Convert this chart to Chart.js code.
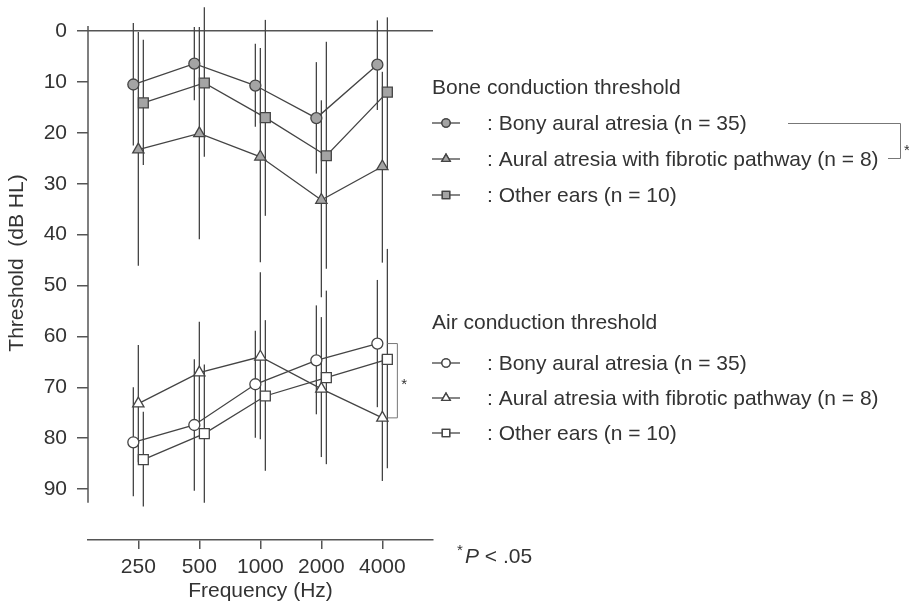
<!DOCTYPE html>
<html lang="en">
<head>
    <meta charset="UTF-8">
    <title>Bone and air conduction thresholds</title>
    <script src="https://cdn.jsdelivr.net/npm/chart.js"></script>
    <style>
        body {
            margin: 0;
            background: #fff;
            font-family: 'Liberation Sans', Arial, sans-serif;
        }
        .chart-container {
            position: relative;
            width: 909px;
            height: 608px;
        }
    </style>
</head>
<body>
    <div class="chart-container">
        <canvas id="audioChart"></canvas>
    </div>

    <script>
        // frequencies on the x axis
        const freqLabels = ['250', '500', '1000', '2000', '4000'];
        const yTickValues = [0, 10, 20, 30, 40, 50, 60, 70, 80, 90];

        // bone conduction (dB HL): means, bottom/top of the vertical bars
        const boneBony = [10.5, 6.4, 10.7, 17.1, 6.6];
        const boneBonyLo = [-1.6, -0.8, 2.5, 6.1, -2.1];
        const boneBonyHi = [22.5, 13.6, 18.8, 28.0, 15.5];

        const boneFib = [23.3, 20.1, 24.7, 33.2, 26.6];
        const boneFibLo = [0.2, -0.8, 3.3, 13.6, 8.0];
        const boneFibHi = [46.1, 40.9, 45.4, 52.3, 45.5];

        const boneOther = [14.1, 10.2, 17.0, 24.5, 12.0];
        const boneOtherLo = [1.7, -4.7, -2.2, 2.1, -2.7];
        const boneOtherHi = [26.3, 24.7, 36.3, 46.7, 27.1];

        // air conduction (dB HL)
        const airBony = [80.8, 77.4, 69.4, 64.7, 61.4];
        const airBonyLo = [70.0, 64.5, 58.9, 53.9, 48.9];
        const airBonyHi = [91.4, 90.3, 79.9, 75.3, 73.9];

        const airFib = [73.2, 67.1, 64.0, 70.3, 76.0];
        const airFibLo = [61.7, 57.1, 47.4, 56.2, 63.6];
        const airFibHi = [84.7, 77.1, 80.2, 83.7, 88.4];

        const airOther = [84.2, 79.1, 71.7, 68.1, 64.5];
        const airOtherLo = [74.8, 65.5, 56.8, 51.0, 42.8];
        const airOtherHi = [93.4, 92.7, 86.4, 85.1, 85.9];

        const groupLabels = [
            ': Bony aural atresia (n = 35)',
            ': Aural atresia with fibrotic pathway (n = 8)',
            ': Other ears (n = 10)'
        ];

        const FONT = "'Liberation Sans', Arial, sans-serif";
        const TEXT = '#333';
        const LINE = '#444';
        const GRAY = '#a4a4a4';
        const DODGE = [-0.082, 0, 0.082];   // small side shift per group
        const STYLES = [
            { pointStyle: 'circle', radius: 5.5 },
            { pointStyle: 'triangle', radius: 6.5 },
            { pointStyle: 'rect', radius: 7 }
        ];

        function makeSet(values, lo, hi, group, fill) {
            return {
                data: values.map((v, i) => ({ x: i + 1 + DODGE[group], y: v })),
                errLo: lo,
                errHi: hi,
                showLine: true,
                borderColor: LINE,
                borderWidth: 1.3,
                pointStyle: STYLES[group].pointStyle,
                pointRadius: STYLES[group].radius,
                pointHoverRadius: STYLES[group].radius,
                pointBackgroundColor: fill,
                pointBorderColor: LINE,
                pointBorderWidth: 1.3,
                clip: false
            };
        }

        const datasets = [
            makeSet(boneBony, boneBonyLo, boneBonyHi, 0, GRAY),
            makeSet(boneFib, boneFibLo, boneFibHi, 1, GRAY),
            makeSet(boneOther, boneOtherLo, boneOtherHi, 2, GRAY),
            makeSet(airBony, airBonyLo, airBonyHi, 0, '#fff'),
            makeSet(airFib, airFibLo, airFibHi, 1, '#fff'),
            makeSet(airOther, airOtherLo, airOtherHi, 2, '#fff')
        ];

        // vertical bars drawn under the markers
        const errorBars = {
            id: 'errorBars',
            beforeDatasetsDraw(chart) {
                const c = chart.ctx;
                const xs = chart.scales.x, ys = chart.scales.y;
                c.save();
                c.strokeStyle = LINE;
                c.lineWidth = 1.3;
                chart.data.datasets.forEach(ds => {
                    ds.data.forEach((p, i) => {
                        const px = xs.getPixelForValue(p.x);
                        c.beginPath();
                        c.moveTo(px, ys.getPixelForValue(ds.errLo[i]));
                        c.lineTo(px, ys.getPixelForValue(ds.errHi[i]));
                        c.stroke();
                    });
                });
                c.restore();
            }
        };

        const decorations = {
            id: 'decorations',
            afterDraw(chart) {
                const c = chart.ctx;
                const xs = chart.scales.x, ys = chart.scales.y;
                const area = chart.chartArea;
                c.save();

                // y axis line, stops short of the x axis
                c.strokeStyle = '#555';
                c.lineWidth = 1.5;
                c.beginPath();
                c.moveTo(area.left, ys.getPixelForValue(-1));
                c.lineTo(area.left, ys.getPixelForValue(92.7));
                c.stroke();

                // y title
                c.fillStyle = TEXT;
                c.font = '21px ' + FONT;
                c.textAlign = 'center';
                c.textBaseline = 'middle';
                c.translate(17, 263);
                c.rotate(-Math.PI / 2);
                c.fillText('Threshold  (dB HL)', 0, 0);
                c.setTransform(1, 0, 0, 1, 0, 0);

                // significance bracket, air 4000 Hz
                const bx = xs.getPixelForValue(5);
                const yTop = ys.getPixelForValue(airBony[4]);
                const yBot = ys.getPixelForValue(airFib[4]);
                c.strokeStyle = '#777';
                c.lineWidth = 1;
                c.beginPath();
                c.moveTo(bx + 5, yTop);
                c.lineTo(bx + 15, yTop);
                c.lineTo(bx + 15, yBot);
                c.lineTo(bx + 5, yBot);
                c.stroke();
                c.font = '15px ' + FONT;
                c.textAlign = 'left';
                c.fillText('*', bx + 19, (yTop + yBot) / 2 + 4);

                // legend blocks
                function block(title, titleY, rowsY, fill) {
                    c.font = '21px ' + FONT;
                    c.fillStyle = TEXT;
                    c.textAlign = 'left';
                    c.textBaseline = 'middle';
                    c.fillText(title, 432, titleY);
                    rowsY.forEach((ry, g) => {
                        c.strokeStyle = LINE;
                        c.lineWidth = 1.3;
                        c.beginPath();
                        c.moveTo(432, ry);
                        c.lineTo(460, ry);
                        c.stroke();
                        c.fillStyle = fill;
                        Chart.helpers.drawPoint(c, {
                            pointStyle: STYLES[g].pointStyle,
                            radius: STYLES[g].radius * 0.75,
                            borderWidth: 1.2,
                            rotation: 0
                        }, 446, ry);
                        c.fill();
                        c.stroke();
                        c.fillStyle = TEXT;
                        c.fillText(groupLabels[g], 487, ry + 1);
                    });
                }
                block('Bone conduction threshold', 88, [123, 159, 195], GRAY);
                block('Air conduction threshold', 323, [363, 398, 433], '#fff');

                // bracket between the bone legend rows
                c.strokeStyle = '#777';
                c.lineWidth = 1;
                c.beginPath();
                c.moveTo(788, 123.5);
                c.lineTo(900.5, 123.5);
                c.lineTo(900.5, 158.5);
                c.lineTo(888, 158.5);
                c.stroke();
                c.fillStyle = TEXT;
                c.font = '15px ' + FONT;
                c.fillText('*', 904, 151);

                // footnote
                c.font = '15px ' + FONT;
                c.fillText('*', 457, 551);
                c.font = 'italic 21px ' + FONT;
                c.fillText('P', 465, 557);
                c.font = '21px ' + FONT;
                c.fillText(' < .05', 479, 557);

                c.restore();
            }
        };

        const ctx = document.getElementById('audioChart').getContext('2d');
        const chart = new Chart(ctx, {
            type: 'scatter',
            data: { datasets: datasets },
            options: {
                responsive: true,
                maintainAspectRatio: false,
                animation: false,
                events: [],
                layout: {
                    padding: { left: 0, top: 26, right: 476, bottom: 0 }
                },
                plugins: {
                    legend: { display: false },
                    tooltip: { enabled: false }
                },
                scales: {
                    x: {
                        type: 'linear',
                        position: 'bottom',
                        min: 0.175,
                        max: 5.83,
                        afterBuildTicks: axis => {
                            axis.ticks = freqLabels.map((_, i) => ({ value: i + 1 }));
                        },
                        afterFit: axis => { axis.height = 68; },
                        ticks: {
                            callback: v => freqLabels[v - 1],
                            color: TEXT,
                            font: { family: FONT, size: 21 },
                            padding: 6,
                            maxRotation: 0
                        },
                        grid: {
                            drawOnChartArea: false,
                            tickLength: 9,
                            tickColor: '#555',
                            lineWidth: 1.5
                        },
                        border: { color: '#555', width: 1.5 },
                        title: {
                            display: true,
                            text: 'Frequency (Hz)',
                            color: TEXT,
                            font: { family: FONT, size: 21 },
                            padding: { top: 0, bottom: 4 }
                        }
                    },
                    y: {
                        type: 'linear',
                        reverse: true,
                        min: -1,
                        max: 100,
                        afterBuildTicks: axis => {
                            axis.ticks = yTickValues.map(v => ({ value: v }));
                        },
                        afterFit: axis => { axis.width = 88; },
                        ticks: {
                            color: TEXT,
                            font: { family: FONT, size: 21 },
                            padding: 10
                        },
                        grid: {
                            color: c => (c.tick && c.tick.value === 0 ? '#555' : 'rgba(0,0,0,0)'),
                            tickColor: '#555',
                            tickLength: 11,
                            lineWidth: 1.5
                        },
                        border: { display: false }
                    }
                }
            },
            plugins: [errorBars, decorations]
        });
    </script>
</body>
</html>
